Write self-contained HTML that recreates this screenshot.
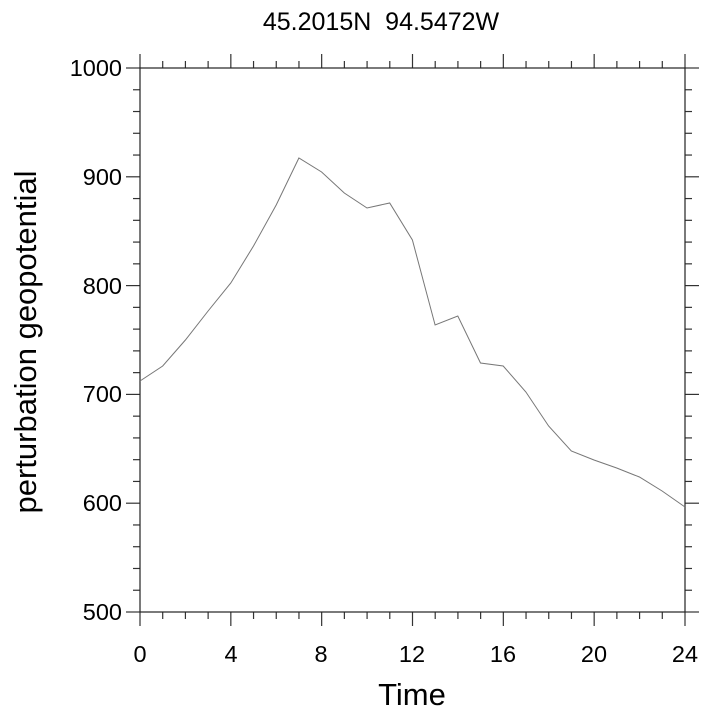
<!DOCTYPE html>
<html><head><style>body{margin:0;background:#fff}</style></head><body>
<svg width="707" height="716" xmlns="http://www.w3.org/2000/svg" font-family="Liberation Sans, sans-serif">
<g id="t" stroke="#333" stroke-width="1.2"></g>
<rect x="140" y="68" width="545" height="544" fill="none" stroke="#222" stroke-width="1.2"/>
<polyline fill="none" stroke="#777" stroke-width="1" points="140,381 162.7,366 185.4,340 208.1,311 230.8,283 253.5,246 276.2,205 298.9,158 321.6,172 344.3,193 367,208 389.7,203 412.4,240 435.1,325 457.8,316 480.5,363 503.2,366 525.9,392 548.6,426 571.3,451 594,460 616.7,468 639.4,477 662.1,491 685,507"/>
<text x="381" y="30" font-size="25" text-anchor="middle" xml:space="preserve">45.2015N  94.5472W</text>
<text x="412" y="705" font-size="31" text-anchor="middle">Time</text>
<text transform="translate(36,342) rotate(-90)" font-size="31" text-anchor="middle">perturbation geopotential</text>
<g font-size="23.5" text-anchor="end">
<text x="122" y="76">1000</text><text x="122" y="185">900</text><text x="122" y="294">800</text><text x="122" y="402">700</text><text x="122" y="511">600</text><text x="122" y="620">500</text>
</g>
<g font-size="23.5" text-anchor="middle">
<text x="140" y="662">0</text><text x="231" y="662">4</text><text x="321" y="662">8</text><text x="412" y="662">12</text><text x="503" y="662">16</text><text x="594" y="662">20</text><text x="685" y="662">24</text>
</g>
</svg>
<script>
var g=document.getElementById('t'),s='';
for(var i=0;i<=24;i++){var x=140+i*545/24,L=i%4==0?14:7;
s+='<line x1="'+x+'" y1="612" x2="'+x+'" y2="'+(612+L)+'"/><line x1="'+x+'" y1="68" x2="'+x+'" y2="'+(68-L)+'"/>';}
for(var j=0;j<=25;j++){var y=612-j*544/25,L=j%5==0?14:7;
s+='<line x1="140" y1="'+y+'" x2="'+(140-L)+'" y2="'+y+'"/><line x1="685" y1="'+y+'" x2="'+(685+L)+'" y2="'+y+'"/>';}
g.innerHTML=s;
</script>
</body></html>
